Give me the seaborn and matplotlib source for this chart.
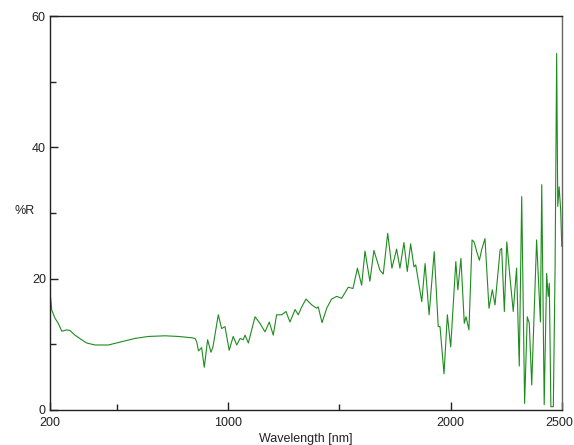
import numpy as np
import pandas as pd
import matplotlib
matplotlib.use('Agg')
import matplotlib.pyplot as plt
import matplotlib.transforms as mtransforms
import seaborn as sns

# Reflectance spectrum
wavelength = [200, 208, 222, 237, 253, 275, 290, 312, 342, 365, 402, 462, 522, 582, 642,
              717, 776, 837, 851, 859, 867, 881, 893, 908, 923, 932, 956, 971, 986, 1005,
              1023, 1039, 1054, 1068, 1076, 1091, 1121, 1143, 1166, 1185, 1203, 1218, 1241,
              1260, 1278, 1301, 1315, 1331, 1350, 1376, 1398, 1405, 1422, 1443, 1465, 1488,
              1510, 1540, 1561, 1581, 1600, 1615, 1637, 1655, 1682, 1697, 1717, 1736, 1757,
              1772, 1790, 1805, 1820, 1835, 1843, 1854, 1870, 1885, 1903, 1926, 1944, 1952,
              1970, 1985, 2000, 2023, 2032, 2046, 2061, 2069, 2082, 2096, 2105, 2117, 2129,
              2139, 2154, 2172, 2187, 2199, 2222, 2229, 2241, 2252, 2266, 2281, 2296, 2308,
              2319, 2332, 2344, 2353, 2364, 2376, 2386, 2397, 2403, 2409, 2420, 2431, 2438,
              2443, 2450, 2461, 2469, 2476, 2481, 2487, 2494, 2499]
reflectance = [18.0, 15.2, 14.0, 13.2, 12.0, 12.2, 12.1, 11.4, 10.7, 10.2, 9.9, 9.9, 10.4, 10.9, 11.2,
               11.3, 11.2, 11.0, 10.9, 10.4, 9.0, 9.5, 6.5, 10.7, 8.8, 9.6, 14.5, 12.4, 12.7, 9.1,
               11.2, 9.9, 10.9, 10.7, 11.4, 10.2, 14.2, 13.2, 11.9, 13.4, 11.4, 14.5, 14.5,
               15.0, 13.4, 15.3, 14.5, 15.7, 16.9, 16.0, 15.5, 15.7, 13.3, 15.5, 16.9, 17.3,
               17.0, 18.7, 18.5, 21.6, 19.0, 24.2, 19.6, 24.3, 21.3, 20.7, 26.9, 21.6, 24.5,
               21.6, 25.5, 21.1, 25.3, 21.8, 22.1, 19.8, 16.5, 22.3, 14.5, 24.1, 12.7, 12.7,
               5.5, 14.5, 9.6, 22.6, 18.3, 23.1, 13.2, 14.2, 12.2, 25.9, 25.6, 24.1, 22.8,
               24.4, 26.1, 15.5, 18.3, 16.0, 24.4, 24.6, 15.0, 25.6, 20.3, 15.0, 21.6, 6.7,
               32.5, 1.0, 14.2, 13.2, 3.8, 15.7, 25.9, 17.8, 13.4, 34.3, 0.8, 20.8, 17.3,
               19.3, 0.5, 0.5, 21.8, 54.3, 31.0, 34.0, 30.5, 24.9]

df = pd.DataFrame({'Wavelength': wavelength, 'R': reflectance})

sns.set_theme(style='ticks')
plt.rcParams['font.family'] = ['Liberation Sans', 'DejaVu Sans']

fig = plt.figure(figsize=(5.74, 4.45), dpi=100)
ax = fig.add_axes([50 / 574, 35 / 445, 512 / 574, 394 / 445])

sns.lineplot(data=df, x='Wavelength', y='R', ax=ax, sort=False, estimator=None,
             color='#1e8c1e', linewidth=0.8)

ax.set_xlim(200, 2500)
ax.set_ylim(0, 60)
ax.set_xticks([200, 1000, 2000, 2500])
ax.set_xticks([500, 1500], minor=True)
ax.set_yticks([0, 20, 40, 60])
ax.set_yticks([10, 30, 50], minor=True)
ax.tick_params(axis='both', which='major', direction='in', length=6, width=1,
               labelsize=9, colors='#222222', pad=3)
ax.tick_params(axis='both', which='minor', direction='in', length=4, width=1, colors='#222222')
ax.tick_params(axis='x', which='major', pad=5)

# keep the last x label inside the canvas
last = ax.get_xticklabels()[-1]
last.set_transform(last.get_transform() + mtransforms.ScaledTranslation(-3 / 100, 0, fig.dpi_scale_trans))

for side in ['left', 'bottom', 'top']:
    ax.spines[side].set_color('#222222')
    ax.spines[side].set_linewidth(1)
ax.spines['right'].set_color('#666666')
ax.spines['right'].set_linewidth(1)

ax.set_xlabel('Wavelength [nm]', fontsize=9, color='#222222', labelpad=3)
ax.set_ylabel('%R', fontsize=9, color='#222222', rotation=0, labelpad=12)
ax.yaxis.set_label_coords(-0.05, 0.49)

fig.savefig('out.png', dpi=100)
